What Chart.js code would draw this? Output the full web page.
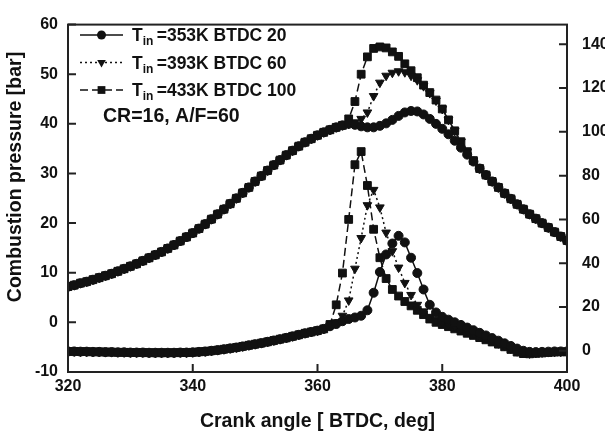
<!DOCTYPE html>
<html>
<head>
<meta charset="utf-8">
<script src="https://cdn.jsdelivr.net/npm/chart.js@4.4.1/dist/chart.umd.min.js"></script>
<style>
  html, body { margin: 0; padding: 0; background: #fff; }
  #wrap { width: 605px; height: 433px; }
</style>
</head>
<body>
<div id="wrap"><canvas id="chart" width="605" height="433"></canvas></div>
<script>
// crank angle, one point per degree
const crankAngles = [
  320, 321, 322, 323, 324, 325, 326, 327, 328, 329, 330, 331, 332, 333, 334, 335, 336, 337, 338, 339,
  340, 341, 342, 343, 344, 345, 346, 347, 348, 349, 350, 351, 352, 353, 354, 355, 356, 357, 358, 359,
  360, 361, 362, 363, 364, 365, 366, 367, 368, 369, 370, 371, 372, 373, 374, 375, 376, 377, 378, 379,
  380, 381, 382, 383, 384, 385, 386, 387, 388, 389, 390, 391, 392, 393, 394, 395, 396, 397, 398, 399, 400
];
const xTicks = [320, 340, 360, 380, 400];
const leftTicks = [-10, 0, 10, 20, 30, 40, 50, 60];
const rightTicks = [0, 20, 40, 60, 80, 100, 120, 140];

// combustion pressure [bar]: shared compression 320-364, own part 365-386, shared expansion 387-400
const pressureCompression = [
  7.2, 7.5, 7.9, 8.2, 8.6, 9.0, 9.4, 9.8, 10.3, 10.8,
  11.3, 11.8, 12.4, 13.0, 13.6, 14.2, 14.9, 15.6, 16.4, 17.2,
  18.0, 18.9, 19.8, 20.8, 21.8, 22.8, 23.9, 25.0, 26.1, 27.2,
  28.4, 29.5, 30.6, 31.7, 32.7, 33.7, 34.6, 35.5, 36.3, 37.0,
  37.7, 38.3, 38.8, 39.3, 39.7
];
const pressureExpansion = [29.7, 28.4, 27.2, 26.0, 24.9, 23.8, 22.8, 21.8, 20.9, 20.0, 19.1, 18.2, 17.3, 16.5];
const pressure353Mid = [40.0, 39.8, 39.5, 39.3, 39.3, 39.6, 40.1, 40.8, 41.6, 42.3, 42.6, 42.5, 41.9, 41.0, 40.0, 39.0, 37.9, 36.6, 35.2, 33.8, 32.4, 31.0];
const pressure393Mid = [40.0, 40.3, 41.0, 42.3, 45.6, 48.3, 49.7, 50.3, 50.6, 50.4, 49.7, 48.8, 47.6, 46.2, 44.7, 43.0, 40.8, 38.6, 36.4, 34.4, 32.6, 31.0];
const pressure433Mid = [41.0, 44.5, 50.0, 53.5, 55.2, 55.5, 55.3, 54.5, 53.6, 52.1, 50.7, 49.3, 47.8, 46.3, 44.8, 43.0, 40.8, 38.6, 36.4, 34.4, 32.6, 31.0];

// heat release (right axis): shared 320-361, own part 362-400
const heatBase = [
  -0.3, -0.3, -0.4, -0.4, -0.5, -0.5, -0.6, -0.6, -0.7, -0.7,
  -0.8, -0.8, -0.8, -0.9, -0.9, -0.9, -0.9, -0.9, -0.8, -0.8,
  -0.7, -0.5, -0.3, 0.0, 0.3, 0.7, 1.1, 1.5, 2.0, 2.5,
  3.0, 3.5, 4.1, 4.7, 5.3, 5.9, 6.6, 7.3, 8.0, 8.6,
  9.2, 10.0
];
const heat353Rest = [
  11.2, 12.2, 13.5, 14.5, 15.2, 16.0, 18.5, 26.5, 36.0, 44.0,
  49.0, 52.5, 49.5, 42.5, 35.5, 28.0, 21.0, 17.5, 15.5, 14.2,
  13.0, 11.8, 10.6, 9.4, 8.2, 7.0, 5.8, 4.6, 3.4, 2.2,
  1.0, 0.0, -0.5, -0.6, -0.5, -0.4, -0.3, -0.3, -0.3
];
const heat393Rest = [
  11.5, 13.0, 16.0, 23.0, 37.5, 51.5, 66.5, 73.5, 65.5, 54.0,
  45.5, 38.0, 31.0, 25.5, 21.0, 18.0, 15.5, 14.0, 13.0, 12.0,
  11.0, 10.0, 9.0, 8.0, 7.0, 5.8, 4.6, 3.4, 2.2, 1.0,
  -0.2, -1.0, -1.2, -1.0, -0.8, -0.6, -0.5, -0.4, -0.4
];
const heat433Rest = [
  12.0, 21.0, 35.5, 60.0, 85.0, 91.0, 75.5, 55.5, 42.5, 33.0,
  28.0, 25.0, 22.5, 20.5, 18.5, 16.5, 14.5, 13.0, 12.0, 11.0,
  10.0, 9.0, 8.0, 7.0, 6.0, 5.0, 4.0, 3.0, 1.8, 0.6,
  -0.6, -1.3, -1.4, -1.2, -1.0, -0.8, -0.6, -0.5, -0.5
];

const pressure353 = pressureCompression.concat(pressure353Mid, pressureExpansion);
const pressure393 = pressureCompression.concat(pressure393Mid, pressureExpansion);
const pressure433 = pressureCompression.concat(pressure433Mid, pressureExpansion);
const heat353 = heatBase.concat(heat353Rest);
const heat393 = heatBase.concat(heat393Rest);
const heat433 = heatBase.concat(heat433Rest);

const legendTemps = ["=353K BTDC 20", "=393K BTDC 60", "=433K BTDC 100"];
const noteText = "CR=16, A/F=60";

const INK = "#111";
const FONT = "'Liberation Sans', Arial, sans-serif";
Chart.defaults.font.family = FONT;
Chart.defaults.font.weight = "bold";
Chart.defaults.font.size = 16;
Chart.defaults.color = INK;

const styles = [
  { pointStyle: "circle", radius: 4.5, rotation: 0, dash: [] },
  { pointStyle: "triangle", radius: 5, rotation: 180, dash: [2, 3] },
  { pointStyle: "rect", radius: 5.5, rotation: 0, dash: [8, 4] }
];

function toPoints(values) { return crankAngles.map((a, i) => ({ x: a, y: values[i] })); }

function makeSet(values, style, axis) {
  return {
    data: toPoints(values), yAxisID: axis, borderColor: INK, borderWidth: 1.5, borderDash: style.dash,
    pointStyle: style.pointStyle, pointRadius: style.radius, pointRotation: style.rotation,
    pointBackgroundColor: INK, pointBorderColor: INK, pointBorderWidth: 1, tension: 0, fill: false
  };
}

function drawMarker(ctx, style, x, y) {
  const r = style.radius;
  ctx.beginPath();
  if (style.pointStyle === "circle") ctx.arc(x, y, r, 0, Math.PI * 2);
  else if (style.pointStyle === "rect") { const s = r * Math.SQRT1_2; ctx.rect(x - s, y - s, 2 * s, 2 * s); }
  else { ctx.moveTo(x, y + r); ctx.lineTo(x - r * 0.866, y - r * 0.5); ctx.lineTo(x + r * 0.866, y - r * 0.5); ctx.closePath(); }
  ctx.fill();
}

const framePlugin = {
  id: "frame",
  afterDraw(chart) {
    const { ctx, chartArea: a, scales } = chart;
    ctx.save();
    ctx.strokeStyle = "#222";
    ctx.lineWidth = 2;
    ctx.strokeRect(a.left, a.top, a.right - a.left, a.bottom - a.top);
    const len = 8;
    ctx.beginPath();
    xTicks.forEach((v) => { const p = scales.x.getPixelForValue(v); ctx.moveTo(p, a.bottom); ctx.lineTo(p, a.bottom - len); });
    leftTicks.forEach((v) => { const p = scales.y.getPixelForValue(v); ctx.moveTo(a.left, p); ctx.lineTo(a.left + len, p); });
    rightTicks.forEach((v) => { const p = scales.y2.getPixelForValue(v); ctx.moveTo(a.right, p); ctx.lineTo(a.right - len, p); });
    ctx.stroke();

    // y title, set a bit above centre like the original
    ctx.fillStyle = INK;
    ctx.save();
    ctx.translate(16, 177);
    ctx.rotate(-Math.PI / 2);
    ctx.textAlign = "center";
    ctx.textBaseline = "middle";
    ctx.font = "bold 19.5px " + FONT;
    ctx.fillText("Combustion pressure [bar]", 0, 0);
    ctx.restore();

    // legend with subscripts
    ctx.lineWidth = 1.5;
    ctx.strokeStyle = INK;
    legendTemps.forEach((label, i) => {
      const y = 35 + i * 27.5;
      ctx.setLineDash(styles[i].dash);
      ctx.beginPath(); ctx.moveTo(80, y); ctx.lineTo(123, y); ctx.stroke();
      ctx.setLineDash([]);
      drawMarker(ctx, styles[i], 101.5, y);
      ctx.textAlign = "left";
      ctx.textBaseline = "alphabetic";
      ctx.font = "bold 17.5px " + FONT;
      ctx.fillText("T", 132, y + 6);
      const tw = ctx.measureText("T").width;
      ctx.font = "bold 12px " + FONT;
      ctx.fillText("in", 132 + tw, y + 10);
      const sw = ctx.measureText("in ").width;
      ctx.font = "bold 17.5px " + FONT;
      ctx.fillText(label, 132 + tw + sw, y + 6);
    });

    ctx.font = "bold 19.5px " + FONT;
    ctx.fillText(noteText, 103, 122);
    ctx.restore();
  }
};

new Chart(document.getElementById("chart"), {
  type: "line",
  data: {
    datasets: [
      makeSet(pressure353, styles[0], "y"), makeSet(pressure393, styles[1], "y"), makeSet(pressure433, styles[2], "y"),
      makeSet(heat353, styles[0], "y2"), makeSet(heat393, styles[1], "y2"), makeSet(heat433, styles[2], "y2")
    ]
  },
  options: {
    responsive: false, animation: false, devicePixelRatio: 1,
    layout: { padding: { top: 13, left: 0, right: 0, bottom: 0 }, autoPadding: false },
    plugins: { legend: { display: false }, tooltip: { enabled: false } },
    scales: {
      x: {
        type: "linear", min: 320, max: 400,
        afterBuildTicks: (s) => { s.ticks = xTicks.map((v) => ({ value: v })); },
        ticks: { padding: 5 },
        grid: { display: false, drawTicks: false }, border: { display: false },
        title: { display: true, text: "Crank angle [ BTDC, deg]", font: { size: 19.5, weight: "bold" }, padding: { top: 0, bottom: 0 } },
        afterFit: (s) => { s.height = 61; }
      },
      y: {
        position: "left", min: -10, max: 60,
        afterBuildTicks: (s) => { s.ticks = leftTicks.map((v) => ({ value: v })); },
        ticks: { padding: 10 },
        grid: { display: false, drawTicks: false }, border: { display: false },
        afterFit: (s) => { s.width = 68; }
      },
      y2: {
        position: "right", min: -9.7, max: 149,
        afterBuildTicks: (s) => { s.ticks = rightTicks.map((v) => ({ value: v })); },
        ticks: { padding: 15 },
        grid: { display: false, drawTicks: false }, border: { display: false },
        afterFit: (s) => { s.width = 38; }
      }
    }
  },
  plugins: [framePlugin]
});
</script>
</body>
</html>
